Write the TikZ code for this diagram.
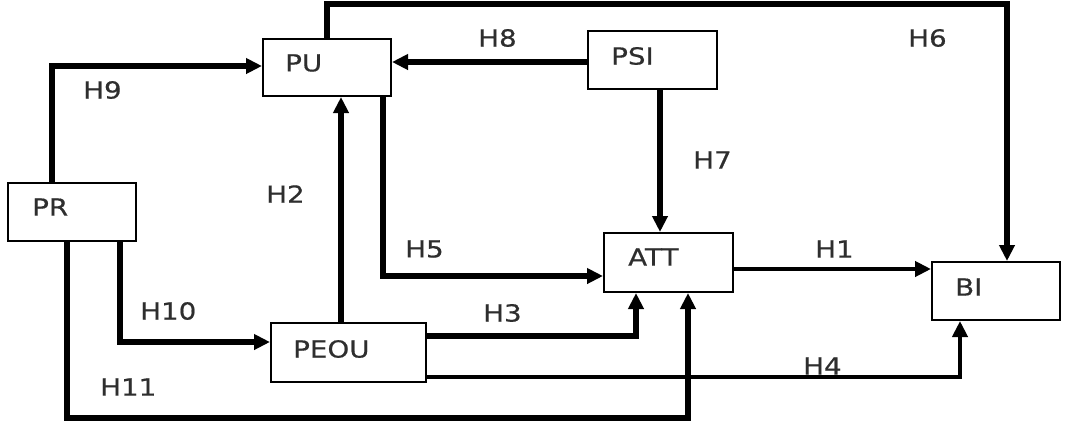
\documentclass[tikz,border=0pt]{standalone}
\usepackage{fontspec}
\newfontfamily\labfont[FakeStretch=1.18,FakeBold=0.6]{DejaVu Sans}
\usetikzlibrary{arrows.meta,calc}
\tikzset{
  box/.style={draw=black, line width=2pt, rectangle, inner sep=0pt, fill=white},
  lab/.style={font=\labfont\fontsize{23.5}{28}\selectfont, text=black!82, inner sep=0pt, anchor=west},
  arr/.style={line width=5.5pt, -{Triangle[length=16pt,width=15pt]}},
  thinarr/.style={line width=4.5pt, -{Triangle[length=16pt,width=15pt]}}
}
\begin{document}
\begin{tikzpicture}[x=1pt,y=-1pt]
\useasboundingbox (0,0) rectangle (1068,424);
% boxes
\node[box, minimum width=128pt, minimum height=57pt] (PU) at (327,67.5) {};
\node[box, minimum width=129pt, minimum height=58pt] (PSI) at (652.5,60) {};
\node[box, minimum width=128pt, minimum height=58pt] (PR) at (72,212) {};
\node[box, minimum width=129pt, minimum height=59pt] (ATT) at (668.5,262.5) {};
\node[box, minimum width=155pt, minimum height=59pt] (PEOU) at (348.5,352.5) {};
\node[box, minimum width=128pt, minimum height=58pt] (BI) at (996,291) {};
% box texts
\node[lab] (tPU) at (285,63) {PU};
\node[lab] (tPSI) at (611,56) {PSI};
\node[lab] (tPR) at (32,207) {PR};
\node[lab] (tATT) at (628,257) {ATT};
\node[lab] (tPEOU) at (293,349) {PEOU};
\node[lab] (tBI) at (955,287) {BI};
% connectors
\draw[arr] (PU.north) -- ++(0,-34) -| ([xshift=11pt]BI.north);
\draw[arr] ([yshift=-2pt]PSI.west) -- ([yshift=-2pt]PSI.west -| PU.east);
\draw[arr] ([xshift=-20pt]PR.north) |- ([yshift=1.5pt]PU.west);
\draw[arr] ([xshift=7.5pt]PSI.south) -- ([xshift=7.5pt]PSI.south |- ATT.north);
\draw[arr] ([xshift=-7.5pt]PEOU.north) -- ([xshift=-7.5pt]PEOU.north |- PU.south);
\draw[arr] ([xshift=56pt]PU.south) |- ([yshift=-13.5pt]ATT.west);
\draw[thinarr] ([yshift=-6.5pt]ATT.east) -- ([yshift=-6.5pt]ATT.east -| BI.west);
\draw[arr] ([xshift=48pt]PR.south) |- ([yshift=10.5pt]PEOU.west);
\draw[arr] ([yshift=16.5pt]PEOU.east) -| ([xshift=-32.5pt]ATT.south);
\draw[thinarr] ([yshift=-24.5pt]PEOU.east) -| ([xshift=-36pt]BI.south);
\draw[arr] ([xshift=-5pt]PR.south) -- ++(0,176) -| ([xshift=19.5pt]ATT.south);
% hypothesis labels
\node[lab] (h9) at (83,90) {H9};
\node[lab] (h8) at (478,38) {H8};
\node[lab] (h6) at (908,38) {H6};
\node[lab] (h7) at (693,160) {H7};
\node[lab] (h2) at (266,194) {H2};
\node[lab] (h5) at (405,249) {H5};
\node[lab] (h1) at (815,249) {H1};
\node[lab] (h10) at (140,311) {H10};
\node[lab] (h3) at (483,313) {H3};
\node[lab] (h4) at (803,366) {H4};
\node[lab] (h11) at (100,387) {H11};
\end{tikzpicture}
\end{document}
